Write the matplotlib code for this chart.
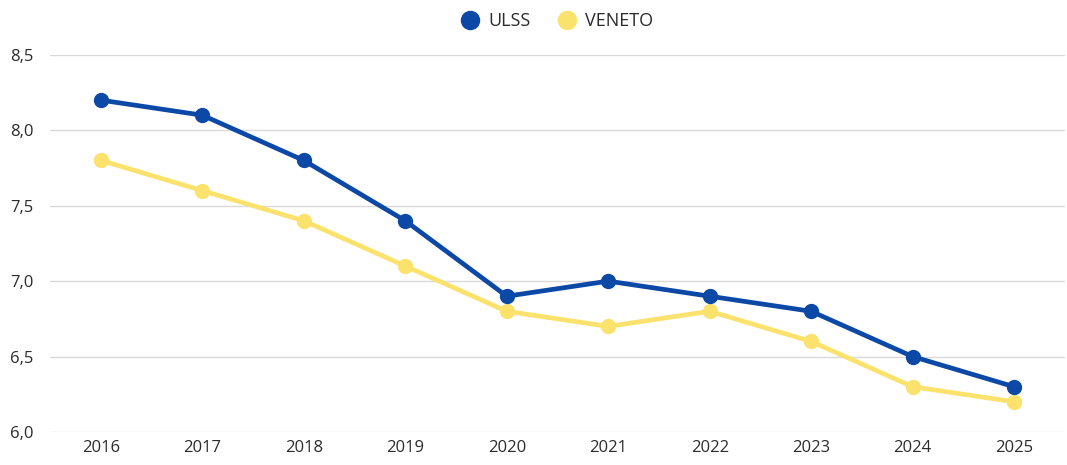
import matplotlib
matplotlib.use("Agg")
import matplotlib.pyplot as plt
from matplotlib.ticker import FuncFormatter

plt.rcParams["font.family"] = ["Open Sans", "DejaVu Sans"]

years = ["2016", "2017", "2018", "2019", "2020", "2021", "2022", "2023", "2024", "2025"]
ulss = [8.2, 8.1, 7.8, 7.4, 6.9, 7.0, 6.9, 6.8, 6.5, 6.3]
veneto = [7.8, 7.6, 7.4, 7.1, 6.8, 6.7, 6.8, 6.6, 6.3, 6.2]

BLUE = "#0c48a6"
YELLOW = "#fbe26c"

fig = plt.figure(figsize=(10.67, 4.65), dpi=100)
ax = fig.add_axes([0.047, 0.071, 0.951, 0.811])

x = range(len(years))
ax.plot(x, veneto, color=YELLOW, linewidth=3.4, marker="o", markersize=10, label="VENETO", zorder=3)
ax.plot(x, ulss, color=BLUE, linewidth=3.4, marker="o", markersize=10, label="ULSS", zorder=4)

ax.set_xlim(-0.5, len(years) - 0.5)
ax.set_ylim(6.0, 8.5)
ax.set_yticks([6.0, 6.5, 7.0, 7.5, 8.0, 8.5])
ax.yaxis.set_major_formatter(FuncFormatter(lambda v, _: f"{v:.1f}".replace(".", ",")))
ax.set_xticks(list(x))
ax.set_xticklabels(years)
ax.grid(True, axis="y", color="#d9d9d9", linewidth=1.0)
ax.set_axisbelow(True)
for s in ax.spines.values():
    s.set_visible(False)
ax.tick_params(length=0, labelsize=12, colors="#2b2b2b")
ax.tick_params(axis="x", pad=6)
ax.tick_params(axis="y", pad=12)

# legenda centrata sull'area del grafico, non sulla figura
handles, labels = ax.get_legend_handles_labels()
leg = fig.legend(handles[::-1], labels[::-1], loc="center", bbox_to_anchor=(0.522, 1 - 21 / 465),
                 ncol=2, frameon=False, fontsize=13, handlelength=1.0, handletextpad=0.5,
                 columnspacing=1.5, markerscale=1.3)
for h in leg.legend_handles:
    h.set_linestyle("none")
for t in leg.get_texts():
    t.set_color("#2b2b2b")

fig.savefig("out.png", dpi=100)
